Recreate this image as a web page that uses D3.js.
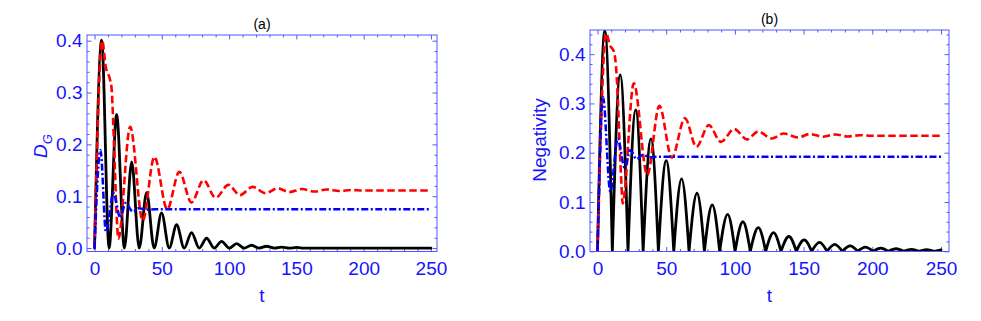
<!DOCTYPE html>
<html lang="en">
<head>
<meta charset="UTF-8">
<title>D_G and Negativity vs t</title>
<script src="https://d3js.org/d3.v7.min.js"></script>
<style>
  body { margin: 0; background: #fff; font-family: 'Liberation Sans', Arial, sans-serif; }
  svg { display: block; }
  .tick text { fill: #1414ff; font-size: 19px; font-family: 'Liberation Sans', Arial, sans-serif; }
  .tick line { stroke: #5555ff; stroke-width: 1; }
  .frame { fill: none; stroke: #5555ff; stroke-width: 1; }
  .axis-label { fill: #1414ff; font-size: 19px; }
  .panel-title { fill: #000; font-size: 14px; }
</style>
</head>
<body>
<div id="chart"></div>
<script>
// ---- values ----
const tTicks = [0, 50, 100, 150, 200, 250];
const yTicks = [0, 0.1, 0.2, 0.3, 0.4];

// panel (a): D_G
const dgBlack = [[0,0],[5.3,0.401],[10.8,0],[16.4,0.258],[22.2,0],[27.6,0.166],[33.2,0],[38.7,0.107],
  [44.3,0],[49.8,0.068],[55.5,0],[61,0.045],[66.6,0],[72.1,0.030],[77.8,0],[83.3,0.019],[88.9,0],
  [94.4,0.013],[100.1,0],[105.6,0.0085],[111.2,0],[116.7,0.0055],[122.4,0],[127.9,0.0035],[133.5,0],
  [139,0.002],[144.7,0],[150.2,0.0012],[155.8,0],[250,0]];
const dgRed = [[0,0],[5.7,0.400],[8.3,0.350],[11.5,0.325],[12.6,0.31],[14.5,0.2],[16.3,0.07],[17.7,0.018],
  [26.5,0.234],[35.8,0.053],[44.5,0.176],[54,0.075],[63,0.147],[72,0.088],[81,0.131],[90,0.097],
  [99.5,0.122],[108,0.102],[117.5,0.118],[127,0.106],[136,0.115],[145,0.108],[154,0.114],[163.5,0.109],
  [172.5,0.113],[182,0.110],[191,0.112],[200,0.111],[250,0.111]];
const dgBlue = [[0,0],[4.4,0.189],[8.5,0.031],[14,0.106],[19.2,0.058],[23,0.087],[28.6,0.070],
  [33,0.077],[38,0.074],[45,0.075],[250,0.075]];

// panel (b): Negativity
const negBlack = [[0,0],[5.3,0.447],[10.8,0],[16.5,0.358],[22.2,0],[27.8,0.287],[33.2,0],[38.9,0.228],
  [44.3,0],[50,0.184],[55.5,0],[61.2,0.147],[66.6,0],[72.4,0.118],[77.8,0],[83.5,0.094],[88.9,0],
  [94.7,0.075],[100.1,0],[105.8,0.060],[111.2,0],[117,0.048],[122.4,0],[128.1,0.038],[133.5,0],
  [139.3,0.030],[144.7,0],[150.4,0.023],[155.8,0],[161.6,0.018],[167,0],[172.7,0.0142],[178.1,0],
  [183.9,0.011],[189.3,0],[195,0.0085],[200.4,0],[206.2,0.0066],[211.6,0],[217.3,0.0052],[222.7,0],
  [228.5,0.0041],[233.9,0],[239.6,0.0032],[245,0],[250,0.0028]];
const negRed = [[0,0],[6.3,0.442],[9,0.418],[12,0.405],[14,0.354],[15.9,0.232],[17.5,0.131],[18.3,0.097],
  [26.4,0.341],[36.2,0.155],[45,0.295],[54.1,0.190],[63.6,0.270],[72,0.212],[81,0.256],[89.8,0.222],
  [99.5,0.248],[108.8,0.227],[117,0.243],[126.8,0.229],[135.5,0.239],[146,0.231],[154.5,0.238],
  [164.3,0.2325],[173,0.237],[182,0.233],[191,0.2355],[200,0.2345],[250,0.2345]];
const negBlue = [[0,0],[4,0.313],[9.3,0.121],[14.8,0.229],[19.7,0.170],[23.9,0.205],[28.4,0.187],
  [33,0.196],[38,0.191],[45,0.192],[250,0.192]];

const svg = d3.select("#chart").append("svg")
  .attr("width", 981)
  .attr("height", 321);

// split a |sin|-like series into arches at its zeros so the cusps stay sharp
function arches(pts) {
  const segs = [];
  let cur = [pts[0]];
  for (let i = 1; i < pts.length; i++) {
    cur.push(pts[i]);
    if (pts[i][1] === 0) { segs.push(cur); cur = [pts[i]]; }
  }
  if (cur.length > 1) segs.push(cur);
  return segs;
}

function drawPanel(p) {
  const x = d3.scaleLinear().domain(p.xDomain).range([p.left, p.right]);
  const y = d3.scaleLinear().domain(p.yDomain).range([p.bottom, p.top]);
  const g = svg.append("g");

  g.append("clipPath").attr("id", "clip-" + p.id)
    .append("rect")
    .attr("x", p.left).attr("y", p.top)
    .attr("width", p.right - p.left).attr("height", p.bottom - p.top);

  const tMinor = d3.range(0, 251, 10).filter(v => tTicks.indexOf(v) < 0);
  const yMinor = d3.range(0, p.yDomain[1], 0.02).filter(v => yTicks.every(t => Math.abs(t - v) > 1e-6));

  function addAxis(gen, transform, values, size, fmt, pad) {
    const a = g.append("g")
      .attr("transform", transform)
      .call(gen.tickValues(values).tickSize(size).tickPadding(pad || 3).tickFormat(fmt || ""));
    a.select(".domain").remove();
    return a;
  }

  // minor ticks on all four sides
  addAxis(d3.axisBottom(x), `translate(0,${p.bottom})`, tMinor, -2.5);
  addAxis(d3.axisTop(x), `translate(0,${p.top})`, tMinor, -2.5);
  addAxis(d3.axisLeft(y), `translate(${p.left},0)`, yMinor, -2.5);
  addAxis(d3.axisRight(y), `translate(${p.right},0)`, yMinor, -2.5);
  // major ticks, labels only bottom and left
  addAxis(d3.axisBottom(x), `translate(0,${p.bottom})`, tTicks, -4.5, d3.format("d"), 10);
  addAxis(d3.axisTop(x), `translate(0,${p.top})`, tTicks, -4.5);
  addAxis(d3.axisLeft(y), `translate(${p.left},0)`, yTicks, -4.5, d3.format(".1f"), 4.5);
  addAxis(d3.axisRight(y), `translate(${p.right},0)`, yTicks, -4.5);

  const line = d3.line()
    .x(d => x(d[0]))
    .y(d => y(d[1]))
    .curve(d3.curveMonotoneX);

  const plot = g.append("g").attr("clip-path", `url(#clip-${p.id})`);

  p.series.forEach(s => {
    const d = s.arches ? arches(s.data).map(line).join("") : line(s.data);
    plot.append("path")
      .attr("d", d)
      .attr("fill", "none")
      .attr("stroke", s.color)
      .attr("stroke-width", s.width)
      .attr("stroke-linecap", s.dash ? "butt" : "round")
      .attr("stroke-linejoin", "round")
      .attr("stroke-dasharray", s.dash || null);
  });

  g.append("rect")
    .attr("class", "frame")
    .attr("x", p.left).attr("y", p.top)
    .attr("width", p.right - p.left).attr("height", p.bottom - p.top);

  const cx = (p.left + p.right) / 2;
  g.append("text")
    .attr("class", "panel-title")
    .attr("x", cx).attr("y", p.top - 6)
    .attr("text-anchor", "middle")
    .text(p.title);

  g.append("text")
    .attr("class", "axis-label")
    .attr("x", cx).attr("y", 302)
    .attr("text-anchor", "middle")
    .text("t");

  const yl = g.append("text")
    .attr("class", "axis-label")
    .attr("text-anchor", "middle")
    .attr("transform", `translate(${p.yLabelX},${p.yLabelY}) rotate(-90)`);
  p.yLabel(yl);
}

drawPanel({
  id: "a", title: "(a)",
  left: 87, right: 437, top: 35, bottom: 251.5,
  xDomain: [-5.6, 254.5], yDomain: [-0.0066, 0.411],
  yLabelX: 47, yLabelY: 146,
  yLabel: t => {
    t.append("tspan").attr("font-style", "italic").text("D");
    t.append("tspan").attr("font-style", "italic").attr("font-size", 13).attr("dy", 5).text("G");
  },
  series: [
    { data: dgBlack, color: "#000", width: 2.8 },
    { data: dgRed, color: "#ff0000", width: 2.6, dash: "7.5,3.5" },
    { data: dgBlue, color: "#0000ff", width: 2.5, dash: "7,2.5,2,2.5" }
  ]
});

drawPanel({
  id: "b", title: "(b)",
  left: 590, right: 949, top: 30, bottom: 251.5,
  xDomain: [-5.46, 255.8], yDomain: [-0.0004, 0.449],
  yLabelX: 546, yLabelY: 140,
  yLabel: t => t.text("Negativity"),
  series: [
    { data: negBlack, color: "#000", width: 2.8, arches: true },
    { data: negRed, color: "#ff0000", width: 2.6, dash: "7.5,3.5" },
    { data: negBlue, color: "#0000ff", width: 2.5, dash: "7,2.5,2,2.5" }
  ]
});
</script>
</body>
</html>
